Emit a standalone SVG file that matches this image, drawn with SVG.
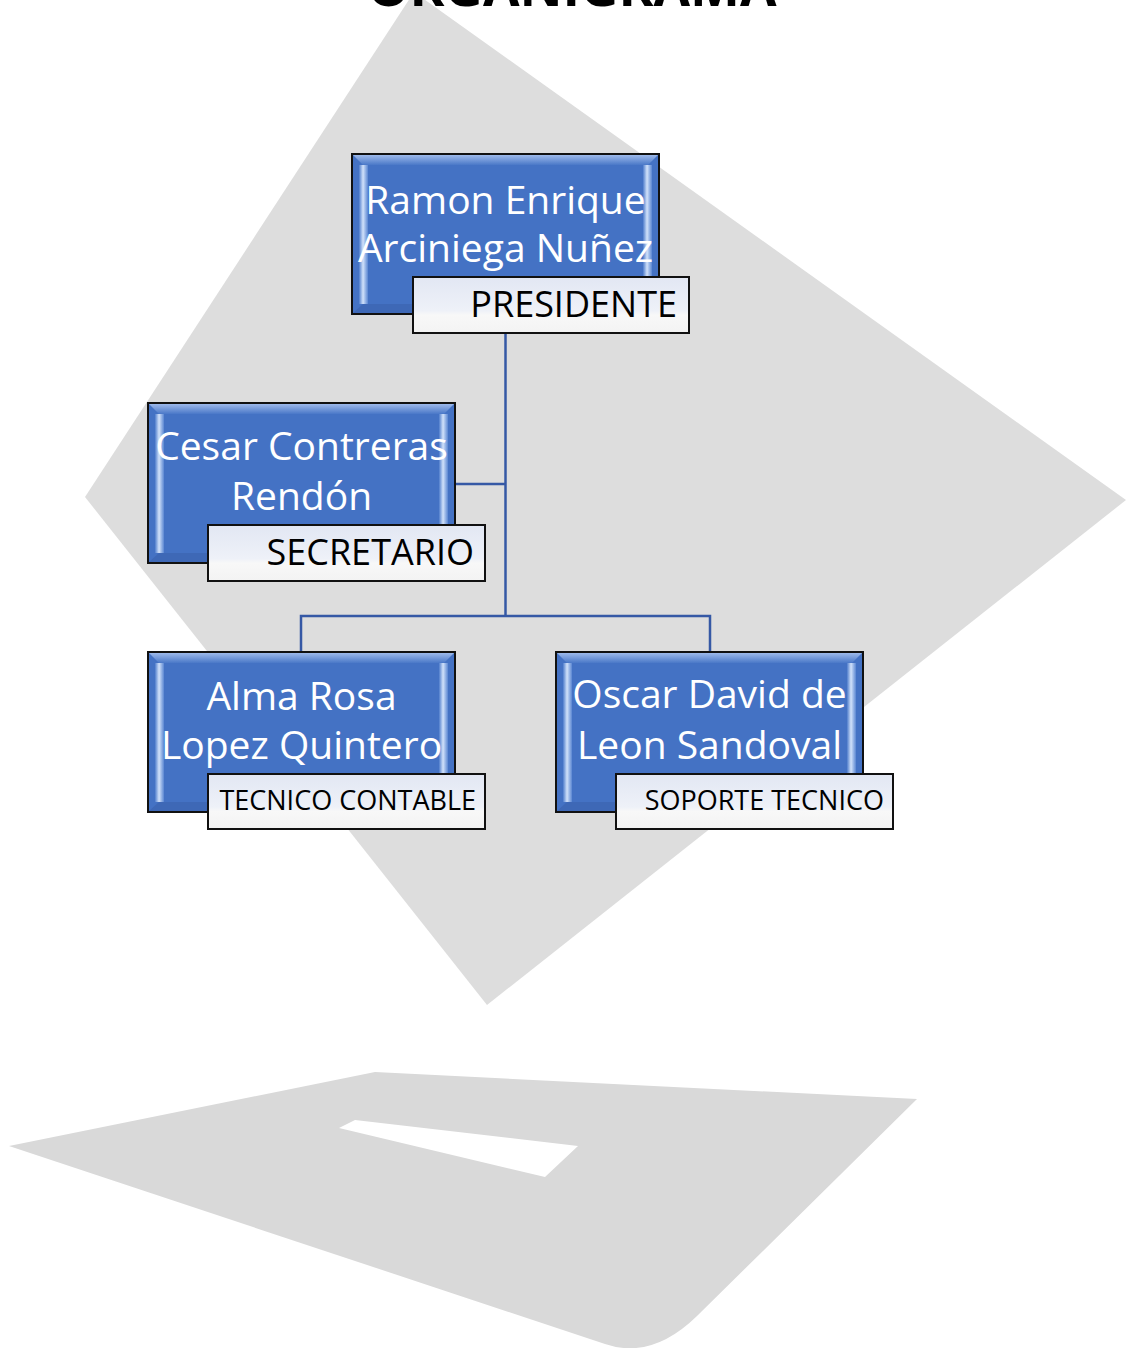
<svg xmlns="http://www.w3.org/2000/svg" width="1127" height="1348" viewBox="0 0 1127 1348">
  <style>
    .bg { fill: #dddddd; }
    .bg2 { fill: #d9d9d9; fill-rule: evenodd; }
    .box { fill: #4472c4; stroke: #111111; stroke-width: 2; }
    .lbl { fill: url(#lblGrad); stroke: #111111; stroke-width: 2; }
    .name { font-family: "Open Sans", "Liberation Sans", sans-serif; font-size: 39px; fill: #ffffff; text-anchor: middle; }
    .role { font-family: "Open Sans", "Liberation Sans", sans-serif; font-size: 36px; fill: #000000; text-anchor: end; }
    .role.small { font-size: 27px; }
    .title { font-family: "Open Sans", "Liberation Sans", sans-serif; font-size: 53px; font-weight: bold; fill: #000000; text-anchor: middle; }
    .conn { fill: none; stroke: #3558a5; stroke-width: 2.5; }
  </style>
  <defs>
    <linearGradient id="lblGrad" x1="0" y1="0" x2="0" y2="1">
      <stop offset="0" stop-color="#e2e7f3"/>
      <stop offset="0.6" stop-color="#eef1f8"/>
      <stop offset="0.68" stop-color="#f8f8f8"/>
      <stop offset="1" stop-color="#f3f3f3"/>
    </linearGradient>
    <linearGradient id="sideGrad" x1="0" y1="0" x2="1" y2="0">
      <stop offset="0" stop-color="#4f7dcc"/>
      <stop offset="0.45" stop-color="#d2e2fa"/>
      <stop offset="1" stop-color="#5a86d2"/>
    </linearGradient>
    <linearGradient id="topGrad" x1="0" y1="0" x2="0" y2="1">
      <stop offset="0" stop-color="#9db9ea"/>
      <stop offset="1" stop-color="#4a78c8"/>
    </linearGradient>
    <g id="nodebox">
      <rect class="box" x="0" y="0" width="307" height="160"/>
      <polygon points="1,1 306,1 296,11 11,11" fill="url(#topGrad)"/>
      <polygon points="1,159 306,159 296,150 11,150" fill="#3e68b6"/>
      <rect x="7" y="11" width="9" height="139" fill="url(#sideGrad)"/>
      <rect x="291" y="11" width="9" height="139" fill="url(#sideGrad)"/>
    </g>
  </defs>

  <g id="background">
    <polygon class="bg" points="414,-8 1126,500 487,1005 85,497"/>
    <path class="bg2" d="M9,1146 L375,1072 L917,1099 L697,1316 Q652,1360 605,1344 Z M355,1120 L578,1146 L545,1177 L339,1128 Z"/>
  </g>

  <g id="title">
    <text class="title" x="572" y="6">ORGANIGRAMA</text>
  </g>

  <g id="connectors">
    <line class="conn" x1="505.5" y1="315" x2="505.5" y2="616"/>
    <line class="conn" x1="455" y1="484" x2="505.5" y2="484"/>
    <polyline class="conn" points="301,652 301,616 710,616 710,652"/>
  </g>

  <g id="n-presidente">
    <use href="#nodebox" x="352" y="154"/>
    <text class="name" x="505.5" y="214">Ramon Enrique</text>
    <text class="name" x="505.5" y="262">Arciniega Nuñez</text>
    <rect class="lbl" x="413" y="277" width="276" height="56"/>
    <text class="role" x="677" y="317">PRESIDENTE</text>
  </g>

  <g id="n-secretario">
    <use href="#nodebox" x="148" y="403"/>
    <text class="name" x="301.5" y="460">Cesar Contreras</text>
    <text class="name" x="301.5" y="510">Rendón</text>
    <rect class="lbl" x="208" y="525" width="277" height="56"/>
    <text class="role" x="474" y="565">SECRETARIO</text>
  </g>

  <g id="n-contable">
    <use href="#nodebox" x="148" y="652"/>
    <text class="name" x="301.5" y="710">Alma Rosa</text>
    <text class="name" x="301.5" y="759">Lopez Quintero</text>
    <rect class="lbl" x="208" y="774" width="277" height="55"/>
    <text class="role small" x="476" y="810">TECNICO CONTABLE</text>
  </g>

  <g id="n-soporte">
    <use href="#nodebox" x="556" y="652"/>
    <text class="name" x="709.5" y="708">Oscar David de</text>
    <text class="name" x="709.5" y="759">Leon Sandoval</text>
    <rect class="lbl" x="616" y="774" width="277" height="55"/>
    <text class="role small" x="884" y="810">SOPORTE TECNICO</text>
  </g>
</svg>
